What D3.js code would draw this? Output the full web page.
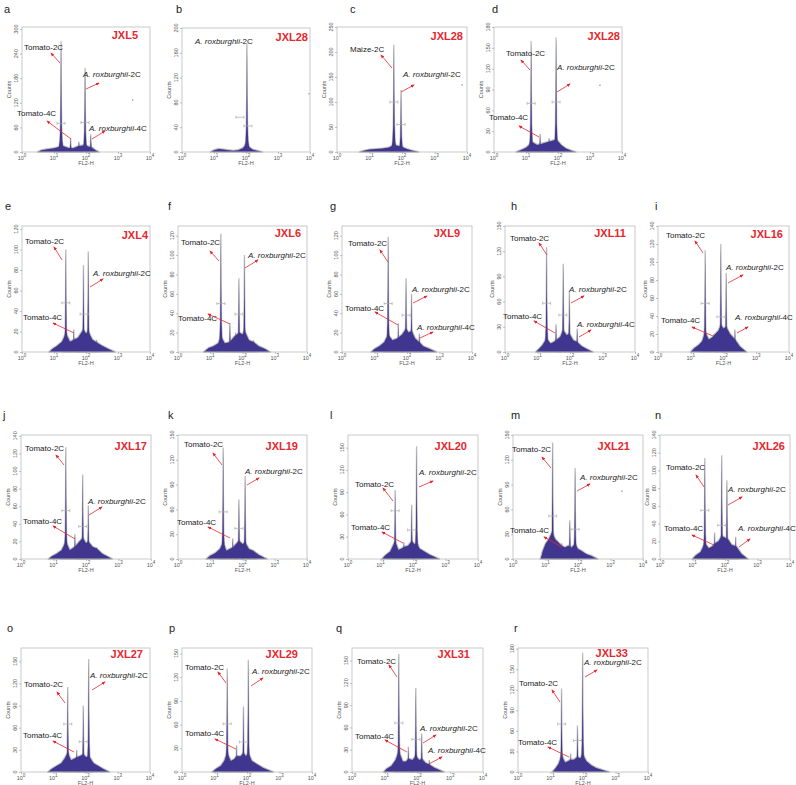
<!DOCTYPE html>
<html><head><meta charset="utf-8">
<script src="https://cdn.jsdelivr.net/npm/d3@7"></script>
<style>body{margin:0;background:#fff}svg{display:block}</style>
</head><body>
<script>
// ---------------- DATA ----------------
const panelIds = ["a","b","c","d","e","f","g","h","i","j","k","l","m","n","o","p","q","r"];
const sampleNames = ["JXL5","JXL28","JXL28","JXL28","JXL4","JXL6","JXL9","JXL11","JXL16","JXL17","JXL19","JXL20","JXL21","JXL26","JXL27","JXL29","JXL31","JXL33"];
const xTickExponents = [0,1,2,3,4];
const yMax = [305,200,250,180,123,130,130,150,140,141,150,167,150,140,168,157,167,181];
const yTicks = [
  [0,60,120,180,240,300],[0,40,80,120,160,200],[0,50,100,150,200,250],[0,30,60,90,120,150,180],
  [0,20,40,60,80,100,120],[0,20,40,60,80,100,120],[0,20,40,60,80,100,120],[0,30,60,90,120,150],[0,20,40,60,80,100,120,140],
  [0,20,40,60,80,100,120,140],[0,30,60,90,120,150],[0,30,60,90,120,150],[0,30,60,90,120,150],[0,20,40,60,80,100,120,140],
  [0,30,60,90,120,150],[0,30,60,90,120,150],[0,30,60,90,120,150],[0,30,60,90,120,150,180]
];
// peaks: [log10(FL2-H), counts]
const peaks = [
  [[1.22,270],[1.52,34],[1.78,25],[1.97,205],[2.15,43]],
  [[2.03,175]],
  [[1.75,215],[1.97,124]],
  [[1.16,160],[1.44,26],[1.72,20],[1.94,165]],
  [[1.37,100],[1.62,22],[1.81,14],[1.92,85],[2.07,98],[2.33,12]],
  [[1.33,122],[1.61,30],[1.79,20],[1.89,76],[2.06,100],[2.34,12]],
  [[1.42,119],[1.73,30],[1.97,76],[2.14,60],[2.38,19]],
  [[1.28,125],[1.57,33],[1.79,105],[1.98,72],[2.22,28]],
  [[1.44,113],[1.71,20],[1.92,120],[2.08,88],[2.35,25]],
  [[1.38,127],[1.66,28],[1.80,20],[1.90,96],[2.07,61],[2.33,13]],
  [[1.40,135],[1.70,25],[1.89,72],[2.08,100],[2.33,10]],
  [[1.45,93],[1.72,23],[1.96,73],[2.11,152]],
  [[1.22,141],[1.50,19],[1.75,47],[1.91,110]],
  [[1.38,114],[1.68,30],[1.90,117],[2.06,89],[2.33,25]],
  [[1.45,115],[1.73,30],[1.93,90],[2.10,153]],
  [[1.39,131],[1.68,34],[1.89,83],[2.04,142]],
  [[1.43,159],[1.72,34],[1.95,113],[2.13,52],[2.36,16]],
  [[1.34,122],[1.62,27],[1.83,68],[1.99,174]]
];
// low background outline: [log10, counts]
const baseCounts = [
  [[0.5,0],[0.6,4],[0.8,7],[1.0,9],[1.15,12],[1.3,14],[1.45,10],[1.6,9],[1.75,14],[1.9,16],[2.05,14],[2.2,10],[2.3,4],[2.4,0]],
  [[0.9,0],[1.0,3],[1.15,5],[1.3,4],[1.45,3],[1.6,2],[1.75,3],[1.9,6],[2.0,12],[2.1,8],[2.2,4],[2.35,2],[2.5,0]],
  [[0.7,0],[0.85,3],[1.0,5],[1.2,6],[1.4,7],[1.6,9],[1.75,14],[1.9,12],[2.0,10],[2.15,6],[2.3,3],[2.5,0]],
  [[0.7,0],[0.85,3],[1.0,6],[1.1,10],[1.2,14],[1.35,10],[1.5,12],[1.65,14],[1.8,16],[1.95,18],[2.1,10],[2.25,5],[2.4,2],[2.55,0]],
  [[0.85,0],[0.95,3],[1.1,6],[1.25,10],[1.37,18],[1.5,10],[1.62,12],[1.75,14],[1.92,22],[2.0,18],[2.07,20],[2.2,12],[2.35,9],[2.5,6],[2.7,3],[2.9,0]],
  [[0.8,0],[0.95,4],[1.1,6],[1.25,9],[1.33,16],[1.45,9],[1.6,10],[1.75,16],[1.9,20],[2.0,18],[2.06,22],[2.2,12],[2.35,10],[2.5,6],[2.7,3],[2.85,0]],
  [[0.9,0],[1.0,3],[1.15,6],[1.3,10],[1.42,18],[1.55,12],[1.7,14],[1.85,18],[1.97,24],[2.05,20],[2.14,22],[2.25,14],[2.38,10],[2.5,6],[2.7,3],[2.9,0]],
  [[0.95,0],[1.05,4],[1.15,8],[1.28,16],[1.4,10],[1.5,12],[1.6,15],[1.7,18],[1.79,26],[1.9,20],[1.98,22],[2.1,14],[2.22,12],[2.35,7],[2.5,4],[2.7,0]],
  [[1.0,0],[1.1,4],[1.25,8],[1.35,12],[1.44,22],[1.55,14],[1.65,16],[1.75,20],[1.85,24],[1.92,30],[2.0,26],[2.08,28],[2.2,20],[2.35,14],[2.5,6],[2.7,0]],
  [[0.85,0],[0.95,3],[1.1,6],[1.25,10],[1.38,20],[1.5,10],[1.66,14],[1.8,20],[1.9,24],[2.0,18],[2.07,20],[2.2,14],[2.33,12],[2.5,6],[2.65,3],[2.8,0]],
  [[0.88,0],[1.0,4],[1.15,7],[1.3,12],[1.4,20],[1.5,10],[1.6,12],[1.7,14],[1.8,18],[1.89,22],[2.0,18],[2.08,20],[2.2,12],[2.33,10],[2.5,5],[2.75,0]],
  [[1.05,0],[1.15,5],[1.3,10],[1.45,24],[1.55,12],[1.65,14],[1.72,16],[1.85,18],[1.96,24],[2.05,20],[2.11,22],[2.2,14],[2.35,10],[2.5,6],[2.65,3],[2.8,0]],
  [[0.85,0],[0.92,10],[1.0,18],[1.1,24],[1.2,32],[1.3,24],[1.4,20],[1.5,16],[1.6,14],[1.7,16],[1.8,14],[1.91,18],[2.0,12],[2.1,10],[2.25,6],[2.4,4],[2.6,0]],
  [[1.0,0],[1.1,4],[1.25,8],[1.38,18],[1.5,12],[1.6,14],[1.71,18],[1.8,20],[1.9,26],[2.0,24],[2.1,22],[2.2,16],[2.35,14],[2.5,6],[2.7,0]],
  [[0.84,0],[0.95,4],[1.1,8],[1.25,12],[1.35,18],[1.45,26],[1.55,16],[1.65,18],[1.73,20],[1.85,22],[1.93,24],[2.02,20],[2.1,22],[2.25,12],[2.4,8],[2.55,4],[2.74,0]],
  [[0.93,0],[1.05,4],[1.2,8],[1.3,14],[1.39,24],[1.5,14],[1.6,16],[1.68,20],[1.8,20],[1.89,24],[1.97,20],[2.04,24],[2.15,14],[2.3,10],[2.5,5],[2.8,0]],
  [[0.97,0],[1.05,4],[1.2,8],[1.33,16],[1.43,28],[1.55,14],[1.65,14],[1.72,18],[1.85,16],[1.95,22],[2.05,16],[2.13,18],[2.25,12],[2.36,10],[2.5,6],[2.8,0]],
  [[1.06,0],[1.15,5],[1.25,12],[1.34,24],[1.45,14],[1.55,16],[1.62,18],[1.72,18],[1.83,22],[1.92,20],[1.99,26],[2.1,16],[2.25,10],[2.4,6],[2.6,3],[2.8,0]]
];
// gate markers [log10, counts]
const gateMarks = [
  [[1.22,70],[1.97,72]],[[1.81,56],[2.06,42]],[[1.75,100],[1.97,55]],[[1.16,70],[1.94,72]],
  [[1.37,48],[1.94,37]],[[1.33,50],[1.89,39]],[[1.42,50],[1.97,38]],[[1.28,58],[1.78,44]],[[1.44,54],[1.92,39]],
  [[1.38,55],[1.90,37]],[[1.40,57],[1.89,37]],[[1.45,65],[1.96,39]],[[1.22,52],[1.91,36]],[[1.38,55],[1.90,38]],
  [[1.45,65],[1.93,41]],[[1.39,61],[1.89,38]],[[1.43,66],[1.95,44]],[[1.34,70],[1.83,46]]
];
// isolated events [log10, counts]
const strayEvents = [[[3.46,127]],[[3.97,94]],[[3.85,134]],[[3.31,96]],[],[],[],[],[],[],[],[],[[3.35,82]],[],[],[],[],[]];

// ---------------- LAYOUT (px) ----------------
const frames = [
  [22,27,128,125],[182,28,128,124],[337,27,130,125],[494,27,128,125],
  [22,226,128,126],[178,226,129,126],[342,226,130,126],[505,226,130,126],[658,226,131,126],
  [21,435,130,124],[178,435,129,124],[348,435,130,124],[513,435,130,124],[660,435,130,124],
  [21,648,129,124],[182,648,130,124],[352,648,131,124],[518,648,130,124]
];
const letterPos = [[4,13],[176,13],[350,13],[492,13],[5,210],[168,210],[330,210],[511,210],[655,210],
  [3,419],[168,419],[330,419],[511,419],[655,419],[7,632],[169,632],[336,632],[514,632]];
const namePos = [[116,12],[126,13],[126,13],[126,13],[126,13],[123,11],[118,11],[121,11],[125,12],
  [126,15],[120,15],[119,15],[117,15],[125,15],[122,10],[116,10],[118,10],[110,9]];
const T2="Tomato-2C", T4="Tomato-4C", A2="A2", A4="A4", M2="Maize-2C";
// [label, textX, textY, arrow x1,y1,x2,y2] relative to frame top-left
const notes = [
  [[T2,2,23,38,36,29,26],[A2,61,50,64,62,77,56],[T4,-5,89,49,112,25,94],[A4,67,104,70,112,83,104]],
  [[A2,13,16]],
  [[M2,13,25,55,41,44,28],[A2,66,50,64,65,77,58]],
  [[T2,12,29,36,43,27,33],[A2,63,43,63,65,76,57],[T4,-5,93,45,110,25,99]],
  [[T2,3,18,40,34,32,21],[A2,71,50,68,61,81,53],[T4,1,94,52,107,31,97]],
  [[T2,3,19,41,35,32,25],[A2,70,32,67,42,80,34],[T4,0,95,52,98,30,88]],
  [[T2,6,20,46,36,38,24],[A2,70,66,71,77,85,70],[T4,3,85,56,99,33,86],[A4,75,104,78,112,91,106]],
  [[T2,5,15,42,29,34,17],[A2,64,66,66,77,79,70],[T4,-2,93,50,107,29,95],[A4,72,101,74,111,86,104]],
  [[T2,8,12,45,27,37,15],[A2,68,44,70,57,85,49],[T4,3,97,55,110,34,101],[A4,77,94,79,107,90,101]],
  [[T2,4,16,43,30,35,20],[A2,67,69,68,80,81,72],[T4,2,89,54,104,32,91]],
  [[T2,6,12,44,30,35,18],[A2,67,39,69,50,81,43],[T4,-1,90,52,103,30,92]],
  [[T2,7,52,45,66,35,53],[A2,71,40,71,52,85,46],[T4,3,95,55,108,34,97]],
  [[T2,-1,17,38,33,29,22],[A2,67,45,64,56,77,49],[T4,-3,98,49,112,31,102]],
  [[T2,6,35,44,52,36,40],[A2,68,57,68,70,82,62],[T4,4,96,54,110,32,100],[A4,78,96,79,112,90,104]],
  [[T2,3,39,44,55,36,44],[A2,69,30,71,42,84,34],[T4,2,90,53,104,32,93]],
  [[T2,3,22,44,35,36,24],[A2,70,26,69,38,81,30],[T4,3,88,54,101,33,91]],
  [[T2,5,16,45,29,37,17],[T4,3,91,55,104,33,92],[A2,68,83,71,95,84,87],[A4,76,105,77,116,90,109]],
  [[T2,1,38,42,54,34,42],[T4,0,97,51,109,30,99],[A2,66,17,67,29,79,22]]
];
// spike silhouette (relative width in log units, relative height) – drawing style
const spikeShape = [[-0.12,0],[-0.07,0.04],[-0.04,0.1],[-0.02,0.25],[-0.009,0.55],[-0.003,0.88],[0,1],[0.003,0.88],[0.009,0.55],[0.02,0.25],[0.04,0.1],[0.07,0.04],[0.12,0]];

// ---------------- DRAW ----------------
const FONT = "'Liberation Sans', Arial, Helvetica, sans-serif";
const RED = "#e8262d", FILL = "#41368f", EDGE = "#8c8c8c";
const svg = d3.select("body").append("svg").attr("width",796).attr("height",785)
  .style("font-family",FONT);
svg.append("rect").attr("width",796).attr("height",785).attr("fill","#fff");
svg.append("defs").append("marker").attr("id","ah").attr("viewBox","0 0 10 10")
  .attr("refX",8).attr("refY",5).attr("markerWidth",5).attr("markerHeight",5)
  .attr("orient","auto").append("path").attr("d","M0,1L10,5L0,9z").attr("fill",RED);

panelIds.forEach((id,i)=>{
  const [L,T,w,h] = frames[i];
  svg.append("text").attr("x",letterPos[i][0]).attr("y",letterPos[i][1])
    .attr("font-size",11).attr("fill","#222").text(id);
  const g = svg.append("g").attr("transform",`translate(${L},${T})`);
  const x = d3.scaleLinear().domain([0,4]).range([0,w]);
  const y = d3.scaleLinear().domain([0,yMax[i]]).range([h,0]);
  const area = d3.area().x(d=>x(d[0])).y0(h).y1(d=>y(d[1]));

  // histogram: grey halo then purple body
  const hist = g.append("g");
  const spikes = peaks[i].map(p=>spikeShape.map(s=>[p[0]+s[0], p[1]*s[1]]));
  [0,1].forEach(layer=>{
    const fill = layer===0 ? EDGE : FILL;
    const op = layer===0 ? 0.55 : 1;
    const grow = layer===0 ? 2.2 : 0;
    hist.append("path").datum(baseCounts[i]).attr("d",area)
      .attr("fill",fill).attr("fill-opacity",op)
      .attr("stroke",layer===0?EDGE:"none").attr("stroke-width",grow).attr("stroke-opacity",op).attr("stroke-linejoin","round");
    spikes.forEach(pts=>{
      hist.append("path").datum(pts).attr("d",area)
        .attr("fill",fill).attr("fill-opacity",op)
        .attr("stroke",layer===0?EDGE:"none").attr("stroke-width",grow*0.6).attr("stroke-opacity",op);
    });
  });
  // gate markers
  gateMarks[i].forEach(m=>{
    const cx = x(m[0]), cy = y(m[1]);
    g.append("path").attr("d",`M${cx-4},${cy}H${cx+4}M${cx-4},${cy-1.5}V${cy+1.5}M${cx+4},${cy-1.5}V${cy+1.5}`)
      .attr("stroke","#aaa").attr("stroke-width",0.7).attr("fill","none");
  });
  strayEvents[i].forEach(m=>{
    g.append("rect").attr("x",x(m[0])-0.7).attr("y",y(m[1])-0.7).attr("width",1.4).attr("height",1.4).attr("fill","#999");
  });

  // frame
  g.append("rect").attr("width",w).attr("height",h).attr("fill","none")
    .attr("stroke","#c4c4c4").attr("stroke-width",0.9);

  // y axis
  const ya = g.append("g").call(d3.axisLeft(y).tickValues(yTicks[i]).tickSize(2).tickFormat(""));
  ya.select(".domain").remove();
  ya.selectAll("line").attr("stroke","#999").attr("stroke-width",0.6);
  yTicks[i].forEach(t=>{
    g.append("text").attr("transform",`translate(-4,${y(t)}) rotate(-90)`)
      .attr("text-anchor","middle").attr("font-size",5.5).attr("fill","#555").text(t);
  });
  g.append("text").attr("transform",`translate(-11,${h/2}) rotate(-90)`)
    .attr("text-anchor","middle").attr("font-size",5.5).attr("fill","#555").text("Counts");

  // x axis
  const xa = g.append("g").attr("transform",`translate(0,${h})`)
    .call(d3.axisBottom(x).tickValues(xTickExponents).tickSize(2).tickFormat(""));
  xa.select(".domain").remove();
  xa.selectAll("line").attr("stroke","#999").attr("stroke-width",0.6);
  xTickExponents.forEach(e=>{
    const t = g.append("text").attr("x",x(e)).attr("y",h+7.5).attr("text-anchor","middle")
      .attr("font-size",5.5).attr("fill","#555");
    t.append("tspan").text("10");
    t.append("tspan").attr("dy",-2.2).attr("font-size",4.5).text(e);
  });
  g.append("text").attr("x",w/2).attr("y",h+13).attr("text-anchor","middle")
    .attr("font-size",5.5).attr("fill","#555").text("FL2-H");

  // sample name
  g.append("text").attr("x",namePos[i][0]).attr("y",namePos[i][1]).attr("text-anchor","end")
    .attr("font-size",11).attr("font-weight","bold").attr("fill",RED).text(sampleNames[i]);

  // annotations
  notes[i].forEach(n=>{
    const t = g.append("text").attr("x",n[1]).attr("y",n[2]).attr("font-size",8).attr("fill","#222");
    if(n[0]==="A2"||n[0]==="A4"){
      t.append("tspan").attr("font-style","italic").text("A. roxburghii");
      t.append("tspan").text(n[0]==="A2"?"-2C":"-4C");
    } else t.text(n[0]);
    if(n.length>3){
      g.append("line").attr("x1",n[3]).attr("y1",n[4]).attr("x2",n[5]).attr("y2",n[6])
        .attr("stroke",RED).attr("stroke-width",0.8).attr("marker-end","url(#ah)");
    }
  });
});
</script>
</body></html>
